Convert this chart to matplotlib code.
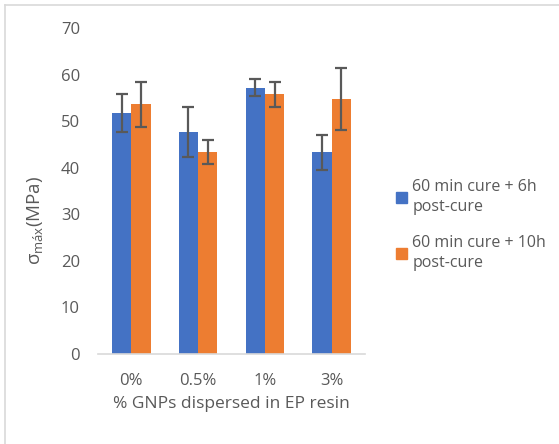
import numpy as np
import matplotlib
matplotlib.use("Agg")
from matplotlib import pyplot as plt
from matplotlib.lines import Line2D
from matplotlib.patches import Patch

plt.rcParams['font.family'] = ['Open Sans', 'DejaVu Sans']
plt.rcParams['mathtext.fontset'] = 'custom'
plt.rcParams['mathtext.rm'] = 'Open Sans'
plt.rcParams['mathtext.it'] = 'Open Sans'

categories = ['0%', '0.5%', '1%', '3%']
cure_6h = [51.7, 47.7, 57.2, 43.3]
cure_6h_err = [4.1, 5.4, 1.9, 3.8]
cure_10h = [53.6, 43.3, 55.8, 54.7]
cure_10h_err = [4.8, 2.6, 2.7, 6.7]
labels = ['60 min cure + 6h\npost-cure', '60 min cure + 10h\npost-cure']

blue = '#4472c4'
orange = '#ed7d31'
grey = '#595959'

fig = plt.figure(figsize=(5.59, 4.44), dpi=100)
ax = fig.add_axes([0.1753, 0.2027, 0.4777, 0.7343])

x = np.arange(len(categories))
w = 0.29
ax.bar(x - w/2, cure_6h, w, color=blue, yerr=cure_6h_err,
       error_kw=dict(ecolor=grey, elinewidth=1.6, capsize=4, capthick=1.6))
ax.bar(x + w/2, cure_10h, w, color=orange, yerr=cure_10h_err,
       error_kw=dict(ecolor=grey, elinewidth=1.6, capsize=4, capthick=1.6))

ax.set_xlim(-0.5, 3.5)
ax.set_ylim(0, 70)
ax.set_yticks(range(0, 71, 10))
ax.set_xticks(x)
ax.set_xticklabels(categories)
for s in ['top', 'right', 'left']:
    ax.spines[s].set_visible(False)
ax.spines['bottom'].set_color('#d9d9d9')
ax.spines['bottom'].set_linewidth(1.2)
ax.tick_params(axis='both', length=0, colors=grey, labelsize=12)
ax.tick_params(axis='y', pad=13)
ax.tick_params(axis='x', pad=14)

ax.set_xlabel('% GNPs dispersed in EP resin', color=grey, fontsize=12.5, labelpad=5)
ax.set_ylabel(r'$\sigma_{\mathrm{máx}}$(MPa)', color=grey, fontsize=13.5)
ax.yaxis.set_label_coords(-0.2, 0.41)

handles = [Patch(color=blue), Patch(color=orange)]
leg = fig.legend(handles, labels, loc='upper left', bbox_to_anchor=(0.683, 0.63),
                 frameon=False, fontsize=11.5, labelcolor=grey, handlelength=0.65,
                 handleheight=0.65, handletextpad=0.35, labelspacing=1.2)
for t in leg.get_texts():
    t.set_linespacing(1.4)

# thin border of the chart area
fig.add_artist(Line2D([0.009, 1.0], [0.989, 0.989], color='#d9d9d9', lw=1.2))
fig.add_artist(Line2D([0.009, 0.009], [0.0, 0.989], color='#d9d9d9', lw=1.2))

fig.savefig('out.png', dpi=100)
